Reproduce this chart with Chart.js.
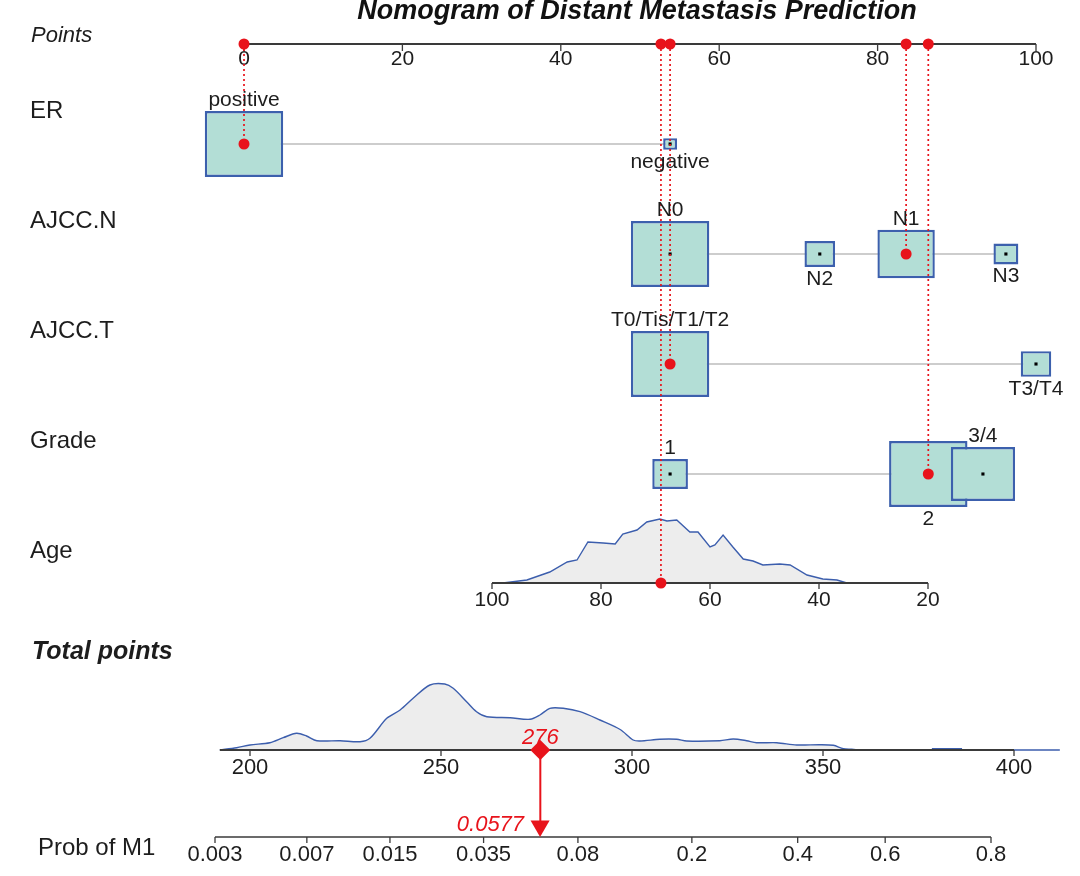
<!DOCTYPE html>
<html>
<head>
<meta charset="utf-8">
<script src="https://cdn.jsdelivr.net/npm/chart.js@4.4.1/dist/chart.umd.min.js"></script>
<style>
  html, body { margin: 0; padding: 0; background: #fff; }
  #wrap { width: 1080px; height: 876px; position: relative; }
</style>
</head>
<body>
<div id="wrap"><canvas id="nomo"></canvas></div>
<script>
const W = 1080, H = 876;

// ---- values ----
const pointsTicks = [0, 20, 40, 60, 80, 100];

const erLevels = ['positive', 'negative'];
const erPoints = [0, 53.8];
const erFreq = [0.85, 0.15];

const nLevels = ['N0', 'N1', 'N2', 'N3'];
const nPoints = [53.8, 83.6, 72.7, 96.2];
const nFreq = [0.41, 0.30, 0.16, 0.13];

const tLevels = ['T0/Tis/T1/T2', 'T3/T4'];
const tPoints = [53.8, 100];
const tFreq = [0.72, 0.28];

const gradeLevels = ['1', '2', '3/4'];
const gradePoints = [53.8, 86.4, 93.3];
const gradeFreq = [0.20, 0.44, 0.36];

const ageTicks = [100, 80, 60, 40, 20];
const ageDensX = [98, 93.6, 89.4, 86.2, 84.4, 82.4, 79.6, 77.4, 76, 73.4, 71.6, 69.2, 67.9, 66.1, 63.7, 62.2, 60, 59.1, 57.6, 55.8, 53.9, 52.1, 50.3, 47.2, 45.3, 42.2, 39.3, 36.7, 34.9, 31.6];
const ageDensY = [0, 3, 11, 21, 23, 41, 40, 39, 49, 53, 61, 64, 62, 63, 51, 51, 36, 38, 48, 36, 24, 22, 18, 19, 18, 8, 4, 3, 0, 0];

const totalTicks = [200, 250, 300, 350, 400];
const totalDensX = [192.1, 196.5, 200, 205.2, 208.7, 212.2, 214.8, 217.5, 223.6, 228.8, 231.4, 235.8, 239.3, 242.7, 247.1, 251, 253.2, 256.7, 259.3, 262, 268.1, 273.3, 275.9, 278.5, 282, 286.4, 291.6, 296.9, 300.3, 302.1, 307.3, 311.7, 314.3, 323, 326.5, 330, 332.6, 337.9, 343.1, 349.2, 352.7, 355.3, 357.5, 359.7, 370, 378.5, 386.4, 393, 400, 412];
const totalDensY = [0, 2.3, 5, 7.3, 12.3, 16.7, 14, 9.3, 9.3, 8.3, 11.7, 31.7, 40, 51.7, 65, 66, 61.7, 48.3, 38.3, 33.3, 32.3, 30.7, 35, 41.7, 41.7, 38.3, 30, 20.5, 10, 9, 10.7, 10.7, 9, 9.3, 11, 9.3, 7.3, 7.3, 5, 5.3, 4.7, 1.3, 0.7, 0, null, 1.2, 1.2, null, 0, 0];

const probTicks = [0.003, 0.007, 0.015, 0.035, 0.08, 0.2, 0.4, 0.6, 0.8];

const chosenER = 'positive', chosenN = 'N1', chosenT = 'T0/Tis/T1/T2', chosenGrade = '2';
const chosenAge = 69;
const totalScore = 276;
const probM1 = 0.0577;

// ---- layout ----
const ROW_Y = { points: 44, 'ER': 144, 'AJCC.N': 254, 'AJCC.T': 364, 'Grade': 474, age: 583, total: 750, prob: 837 };
const BOX_W = 9.9;  // widest box, points units
const BOX_H = 66;   // tallest box, px

const BLUE = '#3c5ead', BOX_FILL = '#b3ded6', BOX_LINE = '#3c60ad', RED = '#e8131b';
const GREY_LINE = '#cdcdcd', AXIS = '#3a3a3a', TXT = '#1d1d1d';
const FONT = '"Liberation Sans", Arial, sans-serif';

const logit = p => Math.log(p / (1 - p));

// linear scale whose value v0 sits at px0 and v1 at px1 across the full canvas width
function fitScale(v0, px0, v1, px1) {
    const k = (px1 - px0) / (v1 - v0);
    const left = v0 - px0 / k, right = v0 + (W - px0) / k;
    return k > 0
        ? { type: 'linear', display: false, offset: false, min: left, max: right, reverse: false }
        : { type: 'linear', display: false, offset: false, min: right, max: left, reverse: true };
}

const variables = [
    { name: 'ER', levels: erLevels, points: erPoints, freq: erFreq, chosen: chosenER },
    { name: 'AJCC.N', levels: nLevels, points: nPoints, freq: nFreq, chosen: chosenN },
    { name: 'AJCC.T', levels: tLevels, points: tPoints, freq: tFreq, chosen: chosenT },
    { name: 'Grade', levels: gradeLevels, points: gradePoints, freq: gradeFreq, chosen: chosenGrade }
];

const datasets = [];

datasets.push({
    label: 'ageDens', type: 'line', xAxisID: 'xAge', yAxisID: 'y',
    data: ageDensX.map((a, i) => ({ x: a, y: ROW_Y.age - ageDensY[i] })),
    borderColor: BLUE, borderWidth: 1.4, backgroundColor: '#ededed',
    fill: { value: ROW_Y.age }, pointRadius: 0, tension: 0, order: 9
});
datasets.push({
    label: 'totalDens', type: 'line', xAxisID: 'xTot', yAxisID: 'y',
    data: totalDensX.map((t, i) => ({ x: t, y: totalDensY[i] === null ? null : ROW_Y.total - totalDensY[i] })),
    borderColor: BLUE, borderWidth: 1.4, backgroundColor: '#ededed',
    fill: { value: ROW_Y.total }, pointRadius: 0, tension: 0.3, spanGaps: false, order: 8
});

const centreDots = [], redDots = [], dotted = [];
variables.forEach(v => {
    const yRow = ROW_Y[v.name];
    const fMax = Math.max(...v.freq);
    datasets.push({
        type: 'line', xAxisID: 'x', yAxisID: 'y',
        data: [{ x: Math.min(...v.points), y: yRow }, { x: Math.max(...v.points), y: yRow }],
        borderColor: GREY_LINE, borderWidth: 2, pointRadius: 0, order: 7
    });
    v.levels.forEach((lv, i) => {
        const r = v.freq[i] / fMax;
        const hw = BOX_W * r / 2;
        datasets.push({
            type: 'bar', indexAxis: 'y', grouped: false, xAxisID: 'x', yAxisID: 'y',
            data: [{ x: [v.points[i] - hw, v.points[i] + hw], y: yRow }],
            backgroundColor: BOX_FILL, borderColor: BOX_LINE, borderWidth: 2.4, borderSkipped: false,
            barPercentage: 100, categoryPercentage: 1, maxBarThickness: BOX_H * r,
            order: 6.5 - i * 0.1
        });
        if (lv === v.chosen) {
            redDots.push({ x: v.points[i], y: yRow }, { x: v.points[i], y: ROW_Y.points });
            dotted.push({ x: v.points[i], y: ROW_Y.points }, { x: v.points[i], y: yRow }, { x: v.points[i], y: null });
        } else {
            centreDots.push({ x: v.points[i], y: yRow });
        }
    });
});

datasets.push({
    type: 'scatter', xAxisID: 'x', yAxisID: 'y', data: centreDots,
    pointStyle: 'rect', pointRadius: 2.2, backgroundColor: '#000', borderWidth: 0, order: 3
});
datasets.push({
    type: 'line', xAxisID: 'x', yAxisID: 'y', data: dotted, spanGaps: false,
    borderColor: RED, borderWidth: 1.7, borderDash: [2, 3], pointRadius: 0, order: 2
});
datasets.push({
    type: 'line', xAxisID: 'xAge', yAxisID: 'y',
    data: [{ x: chosenAge, y: ROW_Y.points }, { x: chosenAge, y: ROW_Y.age }],
    borderColor: RED, borderWidth: 1.7, borderDash: [2, 3], pointRadius: 0, order: 2
});
datasets.push({
    type: 'scatter', xAxisID: 'x', yAxisID: 'y', data: redDots,
    pointStyle: 'circle', pointRadius: 5.5, backgroundColor: RED, borderWidth: 0, order: 1
});
datasets.push({
    type: 'scatter', xAxisID: 'xAge', yAxisID: 'y',
    data: [{ x: chosenAge, y: ROW_Y.age }, { x: chosenAge, y: ROW_Y.points }],
    pointStyle: 'circle', pointRadius: 5.5, backgroundColor: RED, borderWidth: 0, order: 1
});
// total points -> probability
datasets.push({
    type: 'line', xAxisID: 'xTot', yAxisID: 'y',
    data: [{ x: totalScore, y: ROW_Y.total }, { x: totalScore, y: ROW_Y.prob - 10 }],
    borderColor: RED, borderWidth: 2, pointRadius: 0, order: 1
});
datasets.push({
    type: 'scatter', xAxisID: 'xTot', yAxisID: 'y', data: [{ x: totalScore, y: ROW_Y.total }],
    pointStyle: 'rectRot', pointRadius: 10, backgroundColor: RED, borderWidth: 0, order: 1
});
datasets.push({
    type: 'scatter', xAxisID: 'xLp', yAxisID: 'y', data: [{ x: logit(probM1), y: ROW_Y.prob - 11 }],
    pointStyle: 'triangle', rotation: 180, pointRadius: 11, backgroundColor: RED, borderWidth: 0, order: 1
});

function axis(ctx, scale, yPx, from, to, ticks, labels, o) {
    ctx.save();
    ctx.strokeStyle = AXIS;
    ctx.lineWidth = o.lw;
    ctx.beginPath();
    ctx.moveTo(scale.getPixelForValue(from), yPx);
    ctx.lineTo(scale.getPixelForValue(to), yPx);
    ctx.stroke();
    ctx.lineWidth = 1.3;
    ctx.beginPath();
    ticks.forEach(t => {
        const x = scale.getPixelForValue(t);
        ctx.moveTo(x, yPx);
        ctx.lineTo(x, yPx + o.tick);
    });
    ctx.stroke();
    ctx.fillStyle = TXT;
    ctx.font = o.size + 'px ' + FONT;
    ctx.textAlign = 'center';
    ctx.textBaseline = 'middle';
    ticks.forEach((t, i) => ctx.fillText(labels[i], scale.getPixelForValue(t), yPx + o.dy));
    ctx.restore();
}

function drawAxes(chart) {
    const ctx = chart.ctx, s = chart.scales;
    const yPx = v => s.y.getPixelForValue(v);
    axis(ctx, s.x, yPx(ROW_Y.points), 0, 100, pointsTicks, pointsTicks.map(String), { lw: 2, tick: 7, dy: 15, size: 21 });
    axis(ctx, s.xAge, yPx(ROW_Y.age), ageTicks[0], ageTicks[ageTicks.length - 1], ageTicks, ageTicks.map(String), { lw: 2, tick: 6, dy: 17, size: 21 });
    axis(ctx, s.xTot, yPx(ROW_Y.total), totalDensX[0], totalTicks[totalTicks.length - 1], totalTicks, totalTicks.map(String), { lw: 2, tick: 6, dy: 18, size: 22 });
    axis(ctx, s.xLp, yPx(ROW_Y.prob), logit(probTicks[0]), logit(probTicks[probTicks.length - 1]), probTicks.map(logit), probTicks.map(String), { lw: 1.6, tick: 6, dy: 18, size: 22 });
}

function drawText(chart) {
    const ctx = chart.ctx, s = chart.scales;
    const yPx = v => s.y.getPixelForValue(v);
    ctx.save();
    ctx.fillStyle = '#111';
    ctx.textAlign = 'center';
    ctx.textBaseline = 'alphabetic';
    ctx.font = 'bold italic 27px ' + FONT;
    ctx.fillText('Nomogram of Distant Metastasis Prediction', 637, 19);

    ctx.fillStyle = TXT;
    ctx.textAlign = 'left';
    ctx.textBaseline = 'middle';
    ctx.font = 'italic 22px ' + FONT;
    ctx.fillText('Points', 31, yPx(ROW_Y.points) - 8);

    ctx.font = '24px ' + FONT;
    variables.forEach(v => ctx.fillText(v.name, 30, yPx(ROW_Y[v.name]) - 33));
    ctx.fillText('Age', 30, yPx(ROW_Y.age) - 32);

    ctx.font = 'bold italic 25px ' + FONT;
    ctx.fillText('Total points', 32, 652);
    ctx.font = '24px ' + FONT;
    ctx.fillText('Prob of M1', 38, yPx(ROW_Y.prob) + 11);

    // level labels, alternating above / below in order of points
    ctx.textAlign = 'center';
    ctx.font = '21px ' + FONT;
    variables.forEach(v => {
        const yRow = yPx(ROW_Y[v.name]);
        const fMax = Math.max(...v.freq);
        const rank = v.points.map((p, i) => i).sort((a, b) => v.points[a] - v.points[b]);
        rank.forEach((i, k) => {
            const half = BOX_H * v.freq[i] / fMax / 2;
            const x = s.x.getPixelForValue(v.points[i]);
            const y = k % 2 === 0 ? yRow - half - 11 : yRow + half + 12;
            ctx.fillText(v.levels[i], x, y);
        });
    });

    ctx.fillStyle = RED;
    ctx.font = 'italic 22px ' + FONT;
    ctx.fillText(String(totalScore), s.xTot.getPixelForValue(totalScore), yPx(ROW_Y.total) - 12);
    ctx.textAlign = 'right';
    ctx.fillText(String(probM1), s.xLp.getPixelForValue(logit(probM1)) - 16, yPx(ROW_Y.prob) - 12);
    ctx.restore();
}

const nomoPlugin = {
    id: 'nomoText',
    afterDatasetDraw(chart, args) {
        if (chart.data.datasets[args.index].label === 'totalDens') drawAxes(chart);
    },
    afterDraw(chart) {
        drawText(chart);
    }
};

new Chart(document.getElementById('nomo'), {
    type: 'scatter',
    data: { datasets },
    options: {
        responsive: true,
        maintainAspectRatio: false,
        animation: false,
        events: [],
        layout: { padding: 0, autoPadding: false },
        plugins: { legend: { display: false }, tooltip: { enabled: false }, title: { display: false } },
        scales: {
            x: fitScale(0, 244, 100, 1036),
            xAge: fitScale(100, 492, 20, 928),
            xTot: fitScale(200, 250, 400, 1014),
            xLp: fitScale(logit(0.003), 215, logit(0.8), 991),
            y: { type: 'linear', display: false, offset: false, min: 0, max: H, reverse: true }
        }
    },
    plugins: [nomoPlugin]
});
</script>
</body>
</html>
